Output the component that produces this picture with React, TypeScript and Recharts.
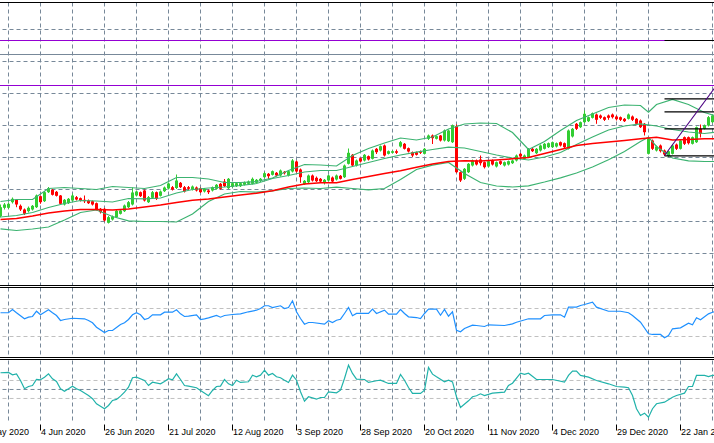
import React from "react";
import {
  ComposedChart,
  Bar,
  Line,
  XAxis,
  YAxis,
  CartesianGrid,
  ReferenceLine,
} from "recharts";

/*
 * MT4-style daily chart: candles with Bollinger bands and a slow MA,
 * fibo levels and a trendline, plus two oscillator sub-windows.
 */

const W = 714;
// first slot sits off-screen so the cut "13 May 2020" label can hang left of the frame
const FIRST = -6;
const LAST = 179;

// candles, bars 0..178
const opens = [
  184.3, 192.7, 192.7, 198.3, 200.7, 194.7, 191, 189.3, 191, 193.3,
  204.3, 199.3, 208.3, 210.7, 208.7, 205, 196, 197.3, 200, 203.3,
  202.3, 200.7, 200, 199.3, 197.3, 191.7, 191.7, 177.7, 181, 183.3,
  186.7, 189.3, 193.3, 196, 205, 208.3, 210, 198.3, 202.7, 208.3,
  204.7, 209.3, 212, 213.3, 212.5, 217.7, 213.3, 213.3, 211, 213,
  212.3, 209, 210, 210, 211.7, 216.7, 219, 212.3, 213.7, 214.3,
  214.3, 215.7, 216.7, 216.7, 217.7, 219.7, 223.3, 226.7, 225.7, 227.7,
  225, 228.7, 225, 229, 239, 231, 216.3, 218.3, 225, 222.7,
  221.7, 218.3, 220, 223, 221, 224.7, 223.3, 236.7, 245.7, 235,
  242.3, 240, 244.3, 241.7, 251.7, 250, 255, 246.7, 247.7, 249.3,
  254, 256.7, 252.3, 248.3, 248.3, 249.3, 246.7, 261.7, 265, 261.7,
  265, 260, 259.3, 258.3, 274.3, 228.3, 221.7, 228.3, 235, 240,
  241, 238.3, 234, 240, 234, 239.3, 235, 236, 237.3, 240,
  246.7, 241.7, 243.3, 251.7, 247.3, 250, 251.7, 253.3, 253.3, 254,
  258.3, 257.3, 251.7, 264, 276.7, 273.3, 278.3, 279.3, 282.7, 286,
  285, 283.3, 285, 286, 284, 283.3, 281.7, 281.7, 284, 281.7,
  280, 276.7, 246.7, 260, 250, 255, 250, 244.3, 246.7, 256,
  251.7, 263.3, 263.3, 256.7, 258.3, 271.7, 271.7, 275, 278.3,
];
const highs = [
  196, 197.5, 198, 203, 201.5, 196, 192, 194, 195.5, 206,
  205, 209.5, 213.5, 211.5, 209.5, 205.5, 201.5, 202.5, 207, 204.5,
  203, 205, 201, 200, 198, 192.5, 192.5, 184.5, 185, 190.5,
  191, 196, 199.5, 213, 210, 209, 211, 204.5, 209.5, 209,
  210, 214, 218, 214.5, 226, 218.5, 214.5, 214.5, 215, 214,
  213, 212.5, 211, 214, 216.5, 217.5, 221.5, 222.5, 218, 218,
  218.5, 219, 220, 223, 221.5, 222.5, 228.5, 227.5, 230, 228.5,
  231, 229.5, 230, 241.5, 240, 232, 220.5, 226, 226, 224,
  222.5, 221.5, 226, 224, 226, 225.5, 236, 252, 246.5, 241,
  243, 246.5, 245, 251, 252.5, 255, 256, 250, 250, 251,
  259.5, 257.5, 253, 249, 249, 250, 252.5, 266, 266, 265,
  265.5, 271, 271, 276, 276, 229, 232.5, 237.5, 241, 241,
  245, 239, 240, 241, 239, 240, 239, 240, 241, 246,
  247.5, 246, 252.5, 252.5, 252.5, 256, 257.5, 258, 259, 258,
  259, 258, 271, 272.5, 277.5, 279, 290, 284, 288, 287,
  286, 284, 286, 287, 285, 284, 282.5, 287, 285, 282.5,
  281, 277.5, 262.5, 261, 255, 256, 251, 250, 256, 257,
  261, 264, 264, 264, 274, 276, 276, 284.5, 286,
];
const lows = [
  183, 191, 191.5, 197, 193.3, 189.5, 185.5, 188, 190, 192.5,
  196.7, 198.5, 207.5, 205, 204, 196, 195, 196.5, 199, 200,
  199, 197.5, 196.5, 195, 190, 187, 179, 177, 180, 182.5,
  186, 188.5, 192.5, 195, 204, 203.5, 199, 197.5, 202, 200.5,
  204, 208.5, 211, 210, 211.5, 212.5, 208, 210.5, 210, 209,
  207.5, 208, 206.5, 209, 211, 211, 213.5, 211.5, 213, 213.5,
  213.5, 215, 215.5, 216, 217, 218.5, 222.5, 221.5, 225, 224,
  224, 226, 224, 228, 228, 217.7, 215.5, 217.5, 219, 218.5,
  217.5, 216, 219, 217.5, 220, 221, 222.5, 236, 234, 234,
  238, 239, 240, 241, 246.5, 249, 244, 246, 247, 246.5,
  253, 251, 248, 243.5, 245, 246.5, 246, 260.5, 256.5, 261,
  259, 259, 258.5, 257.5, 227.5, 218.5, 220.5, 227.5, 234, 235,
  235, 232, 233, 235, 233, 235.5, 234, 235, 236.5, 239,
  242.5, 241, 242.5, 248.5, 246.5, 249, 251, 252.5, 252.5, 253,
  254, 252, 251, 263, 270.5, 272.5, 277.5, 278.5, 282, 276.7,
  281.5, 279.5, 280.7, 282, 280, 279.5, 278.5, 281, 279.5, 276,
  272.5, 265, 246, 250.5, 249, 248, 244.5, 243.5, 246, 250.5,
  251, 255.5, 256, 256, 257.5, 263, 271, 274, 277.5,
];
const closes = [
  193.3, 196, 196.7, 201.7, 196, 191, 186.7, 192.7, 194.7, 205,
  198.3, 208.3, 212.3, 205.7, 204.7, 196.7, 200.7, 201.7, 205, 201,
  200, 199.3, 197.3, 196, 190.7, 188.3, 180, 183.3, 184, 189.7,
  190, 195, 198.3, 208, 209, 204.3, 200, 203.3, 208.3, 201.7,
  209, 213, 217, 211, 220, 213.3, 209, 211.7, 214, 210,
  208.3, 211.7, 208.3, 213.3, 215.7, 211.7, 214.3, 221.7, 217.3, 217.3,
  217.3, 218.3, 219, 221.7, 220.7, 221.7, 227.3, 224.3, 229.3, 225,
  230, 227.3, 229.3, 240, 229, 223.3, 219.7, 225, 220, 219.3,
  219, 220.7, 225, 219, 225, 221.7, 235, 247.7, 235, 240,
  239, 245.7, 241, 250, 248.3, 254.3, 245, 249.3, 249.3, 247.7,
  258.3, 251.7, 249, 245, 245.7, 247.7, 251.7, 265, 262.3, 264.3,
  260, 270, 270, 275, 228.3, 220, 231.7, 236.7, 240, 236,
  237.3, 233.3, 239.3, 236, 238.3, 236.7, 238.3, 239.3, 240, 245,
  244, 245, 251.7, 249.3, 251.7, 255, 256.7, 257.3, 258.3, 257.3,
  255, 253.3, 270, 271.7, 271.7, 278.3, 286.7, 283.3, 287.3, 280.7,
  282.7, 280.7, 282.7, 283.3, 281.3, 280.7, 279.3, 286, 280.7, 276.7,
  273.3, 268.3, 261.7, 251.7, 254, 249.3, 246, 249.3, 255, 251.7,
  260, 256.7, 257.3, 263.3, 273.3, 266.7, 275, 283.3, 285,
];

// indicator lines, [bar, value] read every few bars
const upperBand: [number, number][] = [
  [0, 199], [4, 201], [8, 201], [12, 212], [16, 213], [20, 212], [24, 211], [28, 214],
  [32, 213], [36, 212], [40, 215], [44, 223], [48, 223], [52, 221.5], [56, 218], [60, 218],
  [64, 219], [68, 222.5], [72, 230], [76, 236], [80, 235.5], [84, 234.5], [88, 245], [92, 252],
  [96, 257.5], [100, 262.5], [104, 260.5], [108, 263.5], [112, 271.5], [116, 276.5], [120, 277.5],
  [124, 277], [128, 268], [132, 251], [136, 259], [140, 270], [144, 280], [148, 286.5],
  [152, 293], [156, 295.5], [160, 295], [162, 288.3], [164, 296], [168, 301], [172, 296],
  [176, 288], [179, 284.5],
];
const middleBand: [number, number][] = [
  [0, 183.5], [4, 185], [8, 188], [12, 193], [16, 197], [20, 200], [24, 199.5], [28, 198.5],
  [32, 202], [36, 201.7], [40, 202.5], [44, 207.5], [48, 211], [52, 212.5], [56, 213.5], [60, 215],
  [64, 217], [68, 222], [72, 225], [76, 228.5], [80, 230], [84, 230], [88, 234], [92, 238],
  [96, 242], [100, 245.5], [104, 248.3], [108, 251], [112, 253.3], [116, 252.5], [120, 249],
  [124, 245.5], [128, 242.5], [132, 240.5], [136, 243.5], [140, 248], [144, 256], [148, 263.5],
  [152, 270.5], [156, 274.5], [160, 276.7], [164, 274.5], [168, 271], [172, 268.5], [176, 267],
  [179, 268.3],
];
const lowerBand: [number, number][] = [
  [0, 171.7], [4, 170], [8, 171.5], [12, 173.5], [16, 180.5], [20, 188], [24, 190.5], [28, 184],
  [32, 179.7], [36, 179], [40, 179], [44, 178.5], [48, 186.5], [52, 199], [56, 206.5], [60, 209],
  [64, 208.3], [68, 209.7], [72, 212], [76, 212.5], [80, 212], [84, 213.3], [88, 212], [92, 210.7],
  [96, 212], [100, 221], [104, 231], [108, 235.3], [112, 238], [116, 227], [120, 218],
  [124, 214.5], [128, 213.5], [132, 214.7], [136, 218.5], [140, 222.7], [144, 227.5], [148, 233.5],
  [152, 240.7], [156, 249], [160, 259], [162, 263.3], [164, 254], [168, 242.5], [172, 239.7],
  [176, 239], [179, 239],
];
const slowMa: [number, number][] = [
  [0, 181], [4, 182], [8, 184.5], [12, 187.5], [16, 189.5], [20, 191], [24, 191], [28, 190.5],
  [32, 191.5], [36, 193.5], [40, 195.5], [44, 198], [48, 200.2], [52, 201.5], [56, 203.5], [60, 205.5],
  [64, 207.3], [68, 209.7], [72, 213.5], [76, 216.5], [80, 217.7], [84, 217.7], [88, 221], [92, 224],
  [96, 227], [100, 229.7], [104, 233.3], [108, 236.5], [112, 239], [116, 239.7], [120, 239.5],
  [124, 240.5], [128, 241.7], [132, 243], [136, 247], [140, 251], [144, 255], [148, 257],
  [152, 258.5], [156, 260], [160, 261.7], [164, 263.2], [168, 260.5], [172, 261], [176, 261.7],
  [179, 261.7],
];

// sub-window 1 (0..100, levels 70/30)
const rsi: [number, number][] = [
  [0, 63.9], [2, 63.9], [3, 68.6], [4, 63.9], [6, 55.3], [7, 57.6], [8, 58.6], [9, 66.1], [10, 61],
  [11, 64.7], [12, 68.1], [13, 63.9], [14, 60], [15, 52.9], [16, 54.3], [18, 56.1], [21, 55.3],
  [22, 52.9], [23, 49.6], [24, 43.3], [26, 35.7], [27, 38.6], [28, 38.6], [29, 42.9], [30, 47.1],
  [31, 49.6], [32, 54.3], [33, 61], [34, 63.9], [35, 61], [36, 54.3], [37, 56.1], [38, 61], [40, 61],
  [41, 64.7], [43, 64.7], [44, 68.1], [45, 62.4], [46, 58.6], [47, 59], [49, 61], [50, 54.3],
  [51, 55.3], [52, 56.7], [54, 60], [55, 57.6], [56, 60], [58, 61.4], [60, 62.4], [62, 65.3],
  [64, 67.6], [65, 70], [66, 73.9], [67, 73.9], [68, 71.4], [70, 73.9], [71, 70], [72, 71.4],
  [73, 81], [74, 65.3], [75, 55.7], [76, 47.6], [77, 50], [78, 50], [81, 47.6], [82, 52.4], [83, 50],
  [84, 53.3], [85, 54.7], [86, 62.9], [87, 71.4], [88, 59.6], [89, 62.9], [92, 62.9], [93, 69],
  [94, 62.9], [96, 67.6], [97, 61.9], [99, 61.9], [100, 68.6], [101, 62.9], [102, 58.1], [104, 57.1],
  [105, 55.7], [106, 62.9], [107, 69], [109, 69], [110, 60.4], [111, 68.6], [112, 59], [113, 65.3],
  [114, 39], [115, 36.7], [116, 41.4], [118, 46.1], [119, 45.7], [121, 44.3], [122, 46.7],
  [126, 45.7], [128, 48.1], [129, 50.4], [132, 55.3], [135, 55.3], [136, 60], [138, 61], [140, 61],
  [141, 57.6], [142, 71.9], [144, 71.9], [145, 74.3], [146, 75.7], [148, 79], [149, 71.9],
  [152, 66.1], [155, 66.1], [157, 63.9], [158, 60], [160, 50.4], [162, 33.9], [163, 32.9],
  [165, 32.9], [166, 28.1], [167, 31.4], [168, 41], [170, 42.4], [172, 49], [173, 46.7],
  [174, 56.7], [175, 53.9], [177, 62.4], [178, 64.7], [179, 66],
];
const rsiLevels = [70, 30];

// sub-window 2 (levels 60/40 around 50)
const osc: [number, number][] = [
  [0, 68.6], [2, 68.9], [3, 66.3], [4, 67.2], [5, 60], [6, 50.8], [7, 53.3], [8, 54.4], [9, 61.1],
  [10, 60.8], [11, 63.7], [12, 67.4], [13, 61.9], [14, 58.9], [15, 50.8], [16, 48.1], [17, 50.8],
  [18, 53.7], [19, 50.8], [20, 48.9], [22, 43.3], [23, 39.7], [24, 34.1], [25, 31.4], [26, 28.6],
  [27, 32.2], [28, 37.8], [29, 38.9], [30, 42.6], [31, 47], [32, 52.6], [33, 63], [34, 63.7],
  [36, 60], [37, 54.4], [38, 58.1], [40, 56.3], [41, 58.9], [42, 61.9], [43, 60.8], [44, 67.4],
  [45, 61.1], [46, 54.4], [47, 53.7], [49, 51.9], [50, 48.9], [52, 43.1], [53, 48.9], [54, 53.3],
  [55, 53.7], [56, 61.1], [57, 56.3], [58, 54.4], [59, 60.3], [60, 57.8], [62, 58.6], [63, 65.9],
  [64, 64.1], [65, 65.9], [66, 71.4], [67, 65.9], [68, 67.8], [69, 64.1], [70, 63], [71, 60.3],
  [72, 57.8], [73, 65.9], [74, 60.3], [75, 47.4], [76, 37], [77, 41.9], [79, 39.2], [80, 41.1],
  [81, 41.1], [82, 47.4], [84, 46.3], [85, 49.2], [86, 62.2], [87, 77], [88, 67.8], [89, 61.4],
  [91, 61.1], [92, 57.8], [94, 59.7], [95, 60.3], [97, 56.7], [99, 56.7], [100, 66.7], [101, 60.3],
  [102, 52.2], [103, 45.6], [105, 45.6], [106, 49.2], [107, 74.4], [108, 67], [109, 64.1],
  [111, 58.6], [112, 60.3], [113, 58.5], [114, 41.9], [115, 30], [117, 37.4], [118, 41.9],
  [119, 43], [120, 45.2], [121, 43.3], [123, 45.9], [126, 47], [127, 54.4], [128, 57], [130, 68.1],
  [131, 66.7], [132, 68.1], [134, 61.1], [135, 61.1], [138, 61.1], [141, 58.1], [142, 65.6],
  [143, 70.3], [144, 70.3], [145, 65.6], [147, 63.7], [149, 60], [152, 56.3], [154, 53.3],
  [156, 52.6], [157, 51.9], [158, 43.3], [159, 28.6], [160, 21.1], [161, 23.7], [162, 19.2],
  [163, 28.6], [164, 34.1], [166, 35.9], [168, 41.4], [169, 43.3], [171, 45.9], [172, 53.3],
  [173, 53.3], [174, 65.6], [176, 65.6], [177, 64.4], [178, 65.6], [179, 66],
];
const oscLevels = [60, 40];
const oscMid = 50;

// drawn objects
const hLinesPurple = [360, 315];
const hLineGray = 346;
const fiboStart = 166;
const fiboLevels = [360, 301.7, 288.7, 271.7, 244.7];
const trendPoints: [number, number][] = [[166, 245], [179, 315]];

// axis
const priceGrid = [371, 339, 307, 275, 243, 211, 179, 147];
const tickBars = [-6, 10, 26, 42, 58, 74, 90, 106, 122, 138, 154, 170];
const tickDates = [
  "13 May 2020", "4 Jun 2020", "26 Jun 2020", "21 Jul 2020", "12 Aug 2020", "3 Sep 2020",
  "28 Sep 2020", "20 Oct 2020", "11 Nov 2020", "4 Dec 2020", "29 Dec 2020", "22 Jan 2021",
];
const gridBars: number[] = [];
for (let i = FIRST; i <= LAST; i += 8) gridBars.push(i);

const GRID = "#778899";
const LEVEL = "#c0c0c0";

type Row = { [k: string]: any; i: number };
const rows: Row[] = [];
for (let i = FIRST; i <= LAST; i++) rows.push({ i });
opens.forEach((o, k) => {
  Object.assign(rows[k - FIRST], {
    o,
    h: highs[k],
    l: lows[k],
    c: closes[k],
    range: [lows[k], highs[k]],
  });
});
const put = (pts: [number, number][], key: string) =>
  pts.forEach(([i, v]) => {
    rows[i - FIRST][key] = v;
  });
put(upperBand, "up");
put(middleBand, "mid");
put(lowerBand, "dn");
put(slowMa, "ma");
put(rsi, "rsi");
put(osc, "osc");
put(trendPoints, "trend");
fiboLevels.forEach((v, n) => {
  rows[fiboStart - FIRST]["f" + n] = v;
  rows[LAST - FIRST]["f" + n] = v;
});

// half-pixel offsets keep the 1px grid and level lines crisp
const margin = { top: 0.5, right: -4.5, bottom: -0.5, left: -25.5 };

const Candle = (props: any) => {
  const { x, y, width, height, payload } = props;
  if (!payload || payload.o == null || height == null) return null;
  const { o, h, l, c } = payload;
  const top = Math.min(y, y + height);
  const span = Math.abs(height);
  const k = h - l > 0 ? span / (h - l) : 0;
  const cx = Math.floor(x + width / 2);
  const bodyTop = top + (h - Math.max(o, c)) * k;
  const bodyH = Math.max(1, Math.abs(o - c) * k);
  const color = c >= o ? "#32cd32" : "#ff0000";
  return (
    <g>
      <rect x={cx} y={top} width={1} height={Math.max(1, span)} fill={color} />
      <rect x={cx - 1} y={bodyTop} width={3} height={bodyH} fill={color} />
    </g>
  );
};

const DateTick = (props: any) => {
  const { x, y, payload } = props;
  const n = tickBars.indexOf(payload.value);
  if (n < 0) return null;
  return (
    <g>
      <line x1={x} x2={x} y1={y + 3} y2={y + 9} stroke="#000" />
      <text
        x={x + 0.5}
        y={y + 13}
        fontSize={9}
        fontFamily="'Liberation Sans', Arial, sans-serif"
        fill="#000"
      >
        {tickDates[n]}
      </text>
    </g>
  );
};

const band = (key: string, color: string, w: number) => (
  <Line
    key={key}
    type="linear"
    dataKey={key}
    stroke={color}
    strokeWidth={w}
    dot={false}
    activeDot={false}
    connectNulls
    isAnimationActive={false}
  />
);

const Rule = ({ top }: { top: number }) => (
  <div
    style={{ position: "absolute", left: 0, top, width: W, height: 1, background: "#000" }}
  />
);

export default function App() {
  return (
    <div
      style={{
        position: "relative",
        width: W,
        height: 443,
        overflow: "hidden",
        background: "#fff",
      }}
    >
      <style>{"body{margin:0}"}</style>

      {/* main window */}
      <div style={{ position: "absolute", left: 0, top: 0 }}>
        <ComposedChart
          width={W}
          height={286}
          data={rows}
          margin={{ ...margin, top: 2.5, bottom: 0.5 }}
        >
          <CartesianGrid stroke={GRID} strokeDasharray="4 3" />
          <XAxis
            dataKey="i"
            type="category"
            scale="band"
            allowDuplicatedCategory={false}
            ticks={gridBars}
            hide
          />
          <YAxis type="number" domain={[115, 398]} ticks={priceGrid} allowDataOverflow hide />
          {hLinesPurple.map((v) => (
            <ReferenceLine key={v} y={v} stroke="#9400d3" strokeWidth={1.2} />
          ))}
          <ReferenceLine y={hLineGray} stroke={GRID} />
          <Bar
            dataKey="range"
            shape={(p: any) => <Candle {...p} />}
            isAnimationActive={false}
          />
          {band("up", "#3cb371", 1.2)}
          {band("mid", "#3cb371", 1.2)}
          {band("dn", "#3cb371", 1.2)}
          {band("ma", "#ff0000", 1.6)}
          {fiboLevels.map((_, n) => band("f" + n, "#000", 1.2))}
          {band("trend", "#4b0082", 1.1)}
        </ComposedChart>
      </div>

      {/* oscillator 1 */}
      <div style={{ position: "absolute", left: 0, top: 287 }}>
        <ComposedChart width={W} height={70} data={rows} margin={margin}>
          <CartesianGrid stroke={GRID} strokeDasharray="4 3" horizontal={false} />
          <XAxis
            dataKey="i"
            type="category"
            scale="band"
            allowDuplicatedCategory={false}
            ticks={gridBars}
            hide
          />
          <YAxis type="number" domain={[0, 100]} allowDataOverflow hide />
          {rsiLevels.map((v) => (
            <ReferenceLine key={v} y={v} stroke={LEVEL} strokeDasharray="4 3" />
          ))}
          {band("rsi", "#1e90ff", 1.2)}
        </ComposedChart>
      </div>

      {/* oscillator 2 + date axis */}
      <div style={{ position: "absolute", left: 0, top: 360 }}>
        <ComposedChart width={W} height={83} data={rows} margin={margin}>
          <CartesianGrid stroke={GRID} strokeDasharray="4 3" horizontal={false} />
          <XAxis
            dataKey="i"
            type="category"
            scale="band"
            allowDuplicatedCategory={false}
            ticks={gridBars}
            interval={0}
            height={22}
            axisLine={false}
            tickLine={false}
            tickSize={0}
            tickMargin={0}
            tick={<DateTick />}
          />
          <YAxis type="number" domain={[14.4, 82.2]} allowDataOverflow hide />
          {oscLevels.map((v) => (
            <ReferenceLine key={v} y={v} stroke={LEVEL} strokeDasharray="4 3" />
          ))}
          <ReferenceLine y={oscMid} stroke={GRID} strokeDasharray="4 3" />
          {band("osc", "#20b2aa", 1.2)}
        </ComposedChart>
      </div>

      <Rule top={2} />
      <Rule top={285} />
      <Rule top={287} />
      <Rule top={357} />
      <Rule top={359} />
    </div>
  );
}
